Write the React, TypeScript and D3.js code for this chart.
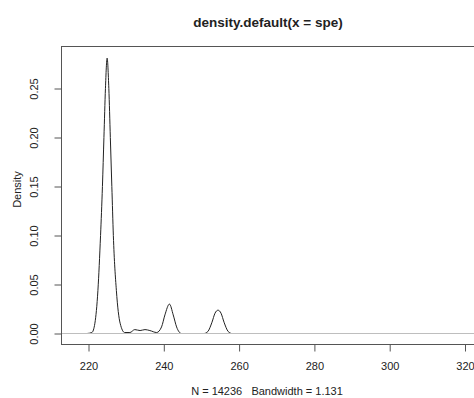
import { useEffect, useRef } from 'react';
import * as d3 from 'd3';

// density curve (x = spe, y = density)
const densityX = [
  219.6, 220.9, 221.7, 222.5, 223.2, 223.7, 224.1, 224.5, 224.95, 225.4, 225.8, 226.2, 226.6,
  227.4, 228.4, 229.6, 231.0, 232.3, 233.7, 235.0, 236.3, 238.1, 239.4, 240.3, 241.5, 242.5,
  243.4, 244.7, 246.5, 248.5, 250.7, 251.7, 252.8, 253.6, 254.4, 255.2, 256.0, 257.1, 258.0,
];
const densityY = [
  0, 0.001, 0.0105, 0.044, 0.1, 0.15, 0.2, 0.25, 0.281, 0.25, 0.2, 0.15, 0.1,
  0.044, 0.0105, 0.001, 0.001, 0.004, 0.003, 0.004, 0.003, 0.001, 0.0067, 0.019, 0.03, 0.019,
  0.0067, 0, 0, 0, 0, 0.002, 0.0115, 0.0207, 0.0238, 0.0207, 0.0115, 0.002, 0,
];

const xTicks = [220, 240, 260, 280, 300, 320];
const yTicks = [0, 0.05, 0.1, 0.15, 0.2, 0.25];

const title = 'density.default(x = spe)';
const xLabel = 'N = 14236   Bandwidth = 1.131';
const yLabel = 'Density';

export default function App() {
  const svgRef = useRef<SVGSVGElement>(null);

  useEffect(() => {
    if (!svgRef.current) return;
    const svg = d3.select(svgRef.current);
    svg.selectAll('*').remove();

    const font = 'Liberation Sans, Arial, sans-serif';
    const ink = '#222';
    const box = { left: 61.5, top: 46.5, bottom: 344.5, right: 500 };

    const x = d3.scaleLinear().domain([220, 320]).range([88.5, 465]);
    const y = d3.scaleLinear().domain([0, 0.25]).range([333.5, 88.5]);

    // title
    svg.append('text')
      .attr('x', 268).attr('y', 27)
      .attr('text-anchor', 'middle')
      .attr('font-family', font).attr('font-weight', 'bold').attr('font-size', '13.5px')
      .attr('fill', ink)
      .text(title);

    // density line
    const pts = densityX.map((d, i) => [d, densityY[i]] as [number, number]);
    const line = d3.line<[number, number]>()
      .x(d => x(d[0]))
      .y(d => y(d[1]))
      .curve(d3.curveMonotoneX);
    svg.append('path')
      .datum(pts)
      .attr('fill', 'none')
      .attr('stroke', ink)
      .attr('stroke-width', 1)
      .attr('d', line);

    // zero line drawn over the curve, like R does
    svg.append('line')
      .attr('x1', box.left).attr('x2', box.right)
      .attr('y1', y(0)).attr('y2', y(0))
      .attr('stroke', '#bebebe').attr('stroke-width', 1);

    // box
    svg.append('rect')
      .attr('x', box.left).attr('y', box.top)
      .attr('width', box.right - box.left).attr('height', box.bottom - box.top)
      .attr('fill', 'none').attr('stroke', '#555').attr('stroke-width', 1);

    // x axis
    const xa = svg.append('g')
      .attr('transform', `translate(0,${box.bottom})`)
      .call(d3.axisBottom(x).tickValues(xTicks).tickSize(7).tickPadding(11).tickFormat(d => `${d}`));
    xa.select('.domain').attr('stroke', '#555').attr('d', `M${x(220)},0H${x(320)}`);
    xa.selectAll('.tick line').attr('stroke', '#555');
    xa.selectAll('text').attr('font-family', font).attr('font-size', '11px').attr('fill', ink);

    // y axis
    const ya = svg.append('g')
      .attr('transform', `translate(${box.left},0)`)
      .call(d3.axisLeft(y).tickValues(yTicks).tickSize(7).tickFormat(d => d3.format('.2f')(d as number)));
    ya.select('.domain').attr('stroke', '#555').attr('d', `M0,${y(0)}V${y(0.25)}`);
    ya.selectAll('.tick line').attr('stroke', '#555');
    ya.selectAll('text')
      .attr('font-family', font).attr('font-size', '11px').attr('fill', ink)
      .attr('transform', 'rotate(-90)')
      .attr('x', 0).attr('y', -24)
      .attr('dy', 0)
      .attr('text-anchor', 'middle');

    // axis labels
    svg.append('text')
      .attr('x', 267).attr('y', 395)
      .attr('text-anchor', 'middle')
      .attr('font-family', font).attr('font-size', '11px')
      .attr('fill', ink)
      .style('white-space', 'pre')
      .attr('xml:space', 'preserve')
      .text(xLabel);

    svg.append('text')
      .attr('transform', `translate(20.5,${(box.top + box.bottom) / 2 - 6}) rotate(-90)`)
      .attr('text-anchor', 'middle')
      .attr('font-family', font).attr('font-size', '11px')
      .attr('fill', ink)
      .text(yLabel);
  }, []);

  return (
    <svg
      ref={svgRef}
      width={474}
      height={398}
      style={{ position: 'absolute', left: 0, top: 0, background: '#fff' }}
    />
  );
}
